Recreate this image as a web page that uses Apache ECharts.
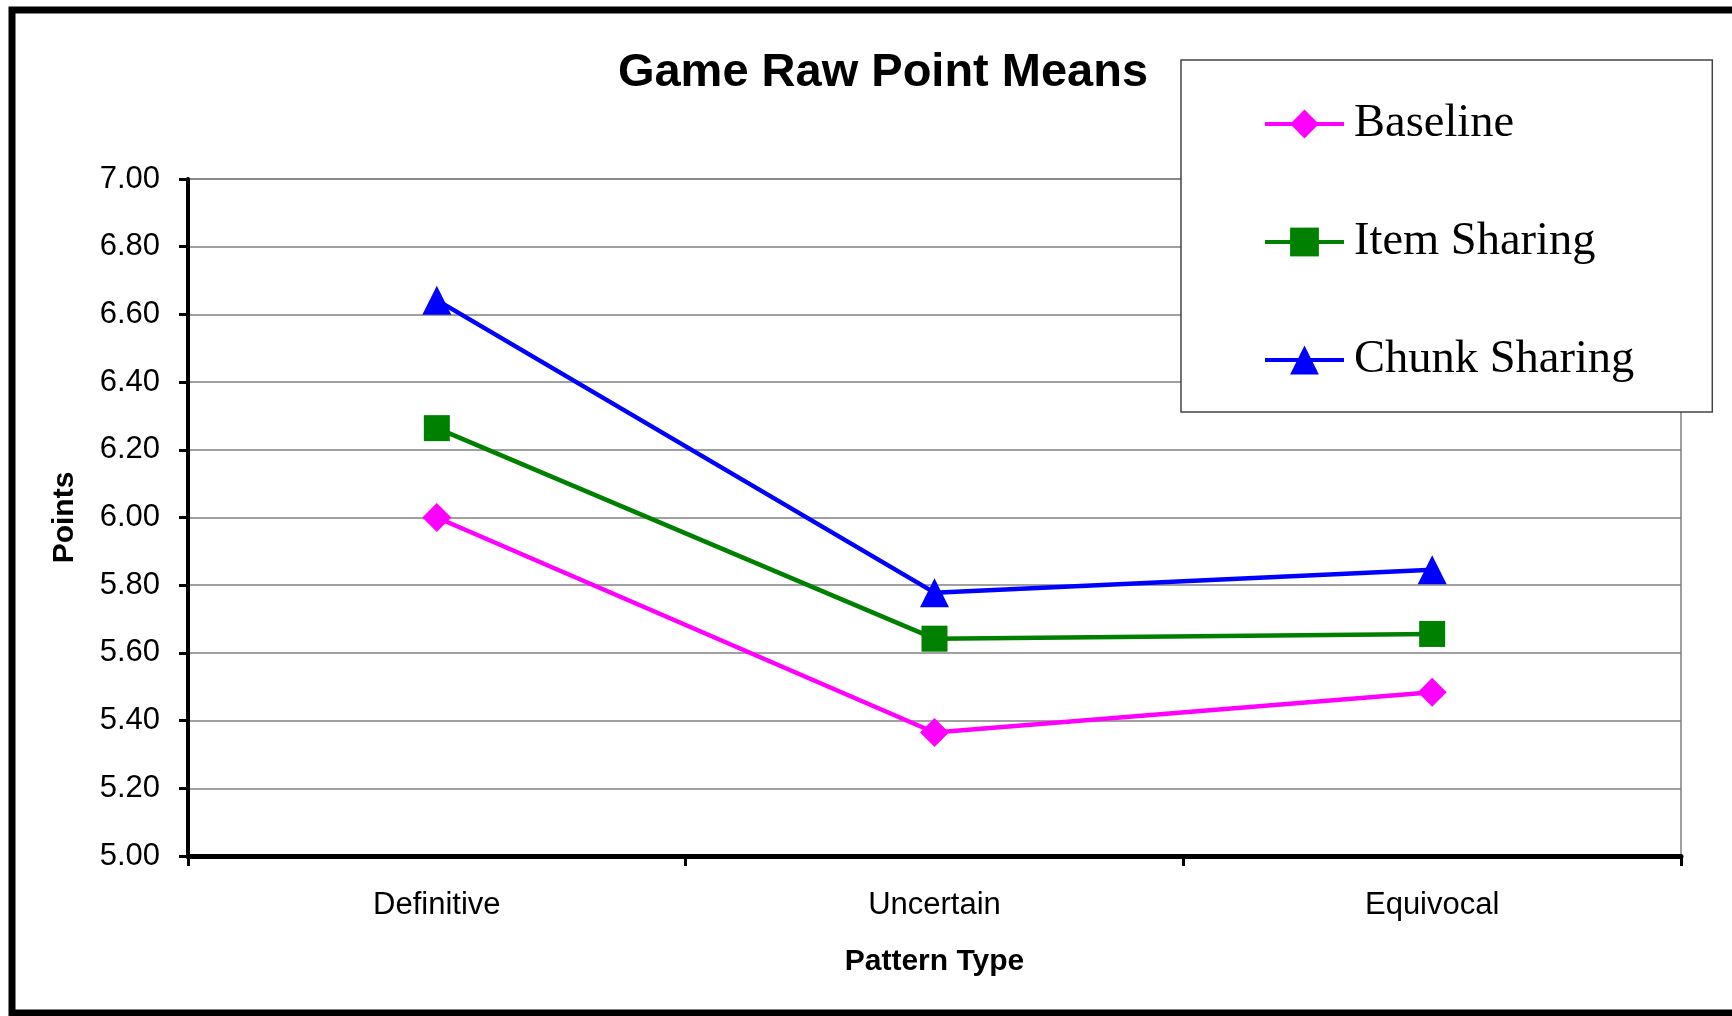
<!DOCTYPE html>
<html>
<head>
<meta charset="utf-8">
<script src="https://cdn.jsdelivr.net/npm/echarts@6/dist/echarts.min.js"></script>
<style>
html,body{margin:0;padding:0;background:#fff;}
#chart{width:1732px;height:1016px;}
</style>
</head>
<body>
<div id="chart"></div>
<script>
const categories = ['Definitive', 'Uncertain', 'Equivocal'];
const baseline = [6.00, 5.365, 5.484];
const itemSharing = [6.264, 5.642, 5.656];
const chunkSharing = [6.642, 5.778, 5.846];
const seriesNames = ['Baseline', 'Item Sharing', 'Chunk Sharing'];
const yTicks = { min: 5.0, max: 7.0, step: 0.2 };

const chart = echarts.init(document.getElementById('chart'));
const sans = 'Liberation Sans, Arial, sans-serif';
const serif = 'Liberation Serif, Times New Roman, serif';

function mk(name, data, color, symbol, size) {
  return {
    name: name, type: 'line', data: data,
    symbol: symbol, symbolSize: size, showSymbol: true,
    lineStyle: { color: color, width: 4.5 },
    itemStyle: { color: color },
    z: 5
  };
}

chart.setOption({
  animation: false,
  backgroundColor: '#ffffff',
  title: {
    text: 'Game Raw Point Means',
    left: 878, top: 68, textAlign: 'center', textVerticalAlign: 'middle',
    textStyle: { fontFamily: sans, fontWeight: 'bold', fontSize: 47, color: '#000' }
  },
  graphic: [{
    type: 'rect', z: 100,
    shape: { x: 12, y: 10, width: 1800, height: 1003 },
    style: { fill: 'none', stroke: '#000', lineWidth: 7 }
  }],
  legend: {
    orient: 'vertical', left: 1181, top: 60,
    padding: [38, 78, 26, 82],
    itemGap: 66, itemWidth: 79, itemHeight: 36,
    lineStyle: { width: 4 },
    backgroundColor: '#fff', borderColor: '#444', borderWidth: 1.5,
    textStyle: { fontFamily: serif, fontSize: 46.5, color: '#000', lineHeight: 52, padding: [0, 0, 0, 5] },
    data: seriesNames
  },
  grid: { left: 188, right: 51, top: 179, bottom: 160, show: true, borderColor: '#808080', borderWidth: 1.5 },
  xAxis: {
    type: 'category', data: categories, boundaryGap: true,
    name: 'Pattern Type', nameLocation: 'middle', nameGap: 91,
    nameTextStyle: { fontFamily: sans, fontWeight: 'bold', fontSize: 30, color: '#000' },
    axisLine: { lineStyle: { color: '#000', width: 5 } },
    axisTick: { show: true, alignWithLabel: false, length: 10, lineStyle: { color: '#000', width: 3 } },
    axisLabel: { fontFamily: sans, fontSize: 31, color: '#000', margin: 34 },
    splitLine: { show: false }
  },
  yAxis: {
    type: 'value', min: yTicks.min, max: yTicks.max, interval: yTicks.step,
    name: 'Points', nameLocation: 'middle', nameGap: 108, nameRotate: 90,
    nameTextStyle: { fontFamily: sans, fontWeight: 'bold', fontSize: 30, color: '#000' },
    axisLine: { show: true, lineStyle: { color: '#000', width: 4 } },
    axisTick: { show: true, length: 9, lineStyle: { color: '#000', width: 3 } },
    axisLabel: { fontFamily: sans, fontSize: 31, color: '#000', margin: 28,
      formatter: v => v.toFixed(2) },
    splitLine: { show: true, lineStyle: { color: '#808080', width: 1.5 } }
  },
  series: [
    mk(seriesNames[0], baseline, '#FF00FF', 'diamond', 29),
    mk(seriesNames[1], itemSharing, '#008000', 'rect', 26),
    mk(seriesNames[2], chunkSharing, '#0000FF', 'triangle', 29)
  ]
});
</script>
</body>
</html>
